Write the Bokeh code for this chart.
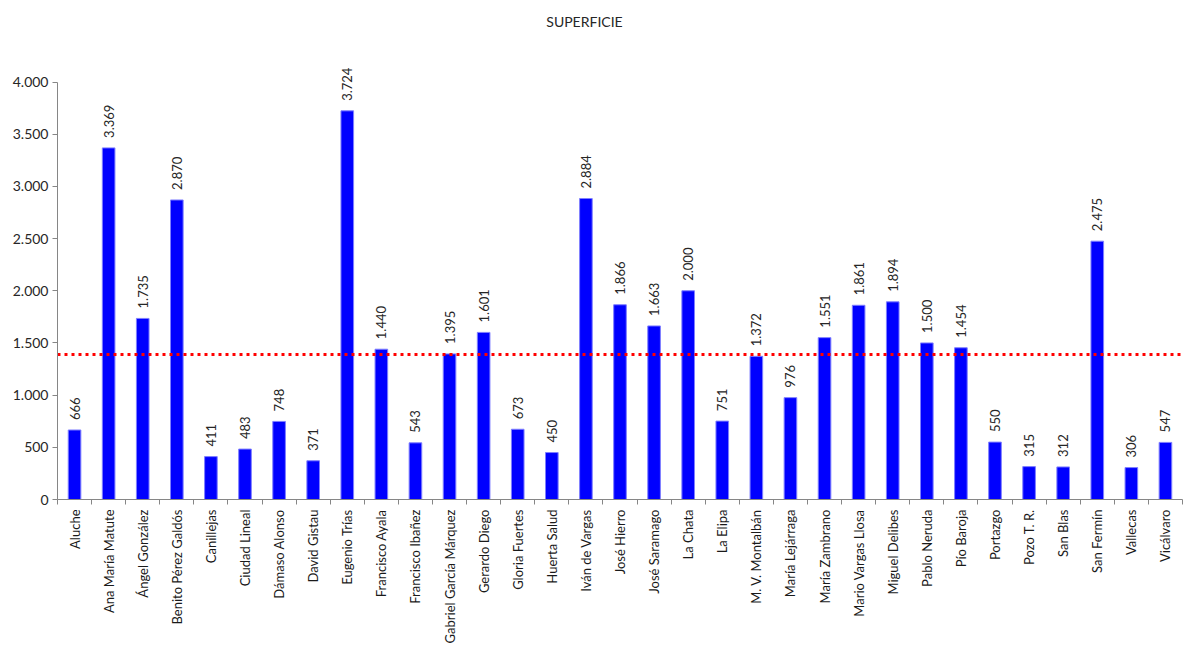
import math
from bokeh.plotting import figure
from bokeh.models import (ColumnDataSource, Range1d, FixedTicker, LabelSet, Label)
from bokeh.core.properties import value
from bokeh.embed import file_html
from bokeh.resources import INLINE

titulo = "SUPERFICIE"
categorias = ["Aluche", "Ana María Matute", "Ángel González", "Benito Pérez Galdós",
              "Canillejas", "Ciudad Lineal", "Dámaso Alonso", "David Gistau",
              "Eugenio Trías", "Francisco Ayala", "Francisco Ibañez",
              "Gabriel García Márquez", "Gerardo Diego", "Gloria Fuertes",
              "Huerta Salud", "Iván de Vargas", "José Hierro", "José Saramago",
              "La Chata", "La Elipa", "M. V. Montalbán", "María Lejárraga",
              "María Zambrano", "Mario Vargas Llosa", "Miguel Delibes",
              "Pablo Neruda", "Pío Baroja", "Portazgo", "Pozo T. R.", "San Blas",
              "San Fermín", "Vallecas", "Vicálvaro"]
superficie = [666, 3369, 1735, 2870, 411, 483, 748, 371, 3724, 1440, 543, 1395,
              1601, 673, 450, 2884, 1866, 1663, 2000, 751, 1372, 976, 1551, 1861,
              1894, 1500, 1454, 550, 315, 312, 2475, 306, 547]
media = 1390
y_ticks = [0, 500, 1000, 1500, 2000, 2500, 3000, 3500, 4000]


def fmt(v):
    return f"{v:,}".replace(",", ".")


FONT = "Lato"
n = len(categorias)
indices = list(range(n))                    # category slot centres
bordes = [i - 0.5 for i in range(n + 1)]    # slot boundaries

W, H = 1186, 646
frame_left, frame_right = 57, 1182
frame_top, frame_bottom = 0, 500
y4000_px = 81.7
px_per_unit = (frame_bottom - y4000_px) / 4000.0
y_top = (frame_bottom - frame_top) / px_per_unit

src = ColumnDataSource(dict(x=indices, cat=categorias, val=superficie,
                            lbl=[fmt(v) for v in superficie]))

p = figure(width=W, height=H, output_backend="svg", toolbar_location=None,
           x_range=Range1d(-0.5, n - 0.5), y_range=Range1d(0, y_top),
           min_border_left=frame_left, min_border_right=W - frame_right,
           min_border_top=frame_top, min_border_bottom=H - frame_bottom)
p.outline_line_color = None
p.xgrid.grid_line_color = None
p.ygrid.grid_line_color = None
p.background_fill_color = "white"
p.border_fill_color = "white"

# y axis
ya = p.yaxis[0]
ya.ticker = FixedTicker(ticks=y_ticks)
ya.bounds = (0, 4000)
ya.major_label_overrides = {t: fmt(t) for t in y_ticks}
ya.major_label_text_font = FONT
ya.major_label_text_font_size = "14px"
ya.major_label_text_color = "#262626"
ya.axis_line_color = "#868686"
ya.major_tick_line_color = "#868686"
ya.major_tick_out = 5
ya.major_tick_in = 0
ya.minor_tick_line_color = None
ya.major_label_standoff = 4

# x axis: labels at slot centres, tick marks at slot boundaries
xa = p.xaxis[0]
xa.ticker = FixedTicker(ticks=indices, minor_ticks=bordes)
xa.major_label_overrides = {i: c for i, c in zip(indices, categorias)}
xa.major_label_orientation = math.pi / 2
xa.major_label_text_font = FONT
xa.major_label_text_font_size = "13px"
xa.major_label_text_color = "#1a1a1a"
xa.major_label_standoff = 5
xa.axis_line_color = "#868686"
xa.major_tick_line_color = None
xa.major_tick_out = 0
xa.major_tick_in = 0
xa.minor_tick_line_color = "#868686"
xa.minor_tick_out = 5
xa.minor_tick_in = 0

# bars
p.vbar(x="x", top="val", width=0.37, source=src,
       fill_color="#0000FF", line_color="#7f7fff", line_width=1)

# average line
p.line(x=[-0.5, n - 0.5], y=[media, media],
       line_color="#FF0000", line_width=3, line_dash="3 4")

# value labels
p.add_layout(LabelSet(x="x", y="val", text="lbl", source=src,
                      angle=math.pi / 2, text_align="left", text_baseline="middle",
                      y_offset=10, text_font=value(FONT), text_font_size="13px",
                      text_color="#262626"))

# title
title_x = -0.5 + (584 - frame_left) / ((frame_right - frame_left) / n)
title_y = (frame_bottom - 21) / px_per_unit
p.add_layout(Label(x=title_x, y=title_y, text=titulo,
                   text_align="center", text_baseline="middle", text_font=FONT,
                   text_font_size="14px", text_color="#262626"))

open("out.html", "w").write(file_html(p, INLINE))
